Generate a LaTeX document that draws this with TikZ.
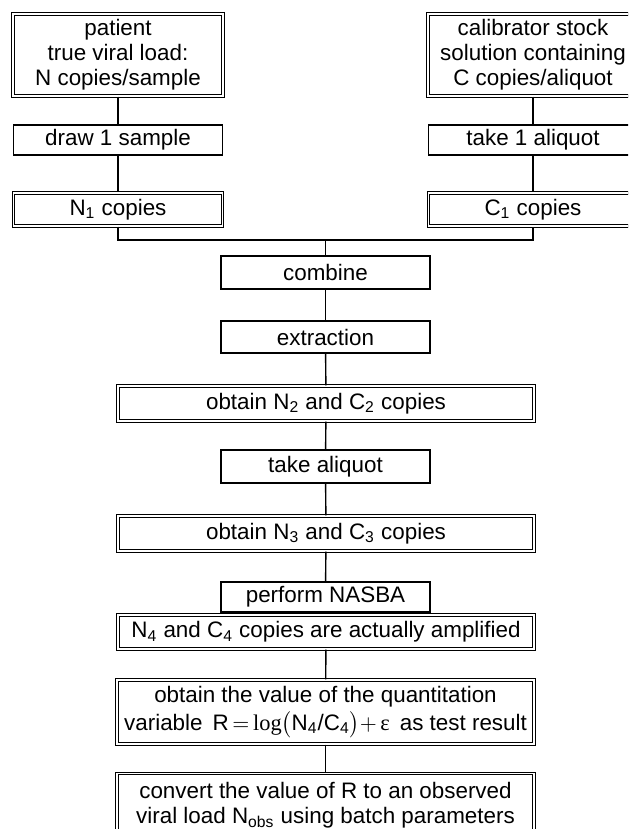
\documentclass[tikz,border=0pt]{standalone}
\usepackage{amsmath}
\usepackage{fontspec}
\setmainfont{Liberation Sans}
\newfontfamily\timesfont{Liberation Serif}
\usetikzlibrary{positioning}

\begin{document}
\begin{tikzpicture}[
    x=0.5pt, y=-0.5pt,
    line width=0.7pt,
    plain/.style={rectangle, draw, inner sep=0pt, align=center, font=\fontsize{11.2}{12.5}\selectfont},
    framed/.style={plain, double, line width=0.55pt, double distance=0.8pt}
]
    \clip (0,0) rectangle (628,829);

    % Patient branch
    \node[framed, minimum width=105pt, minimum height=41pt] (patient) at (118,55) {patient\\true viral load:\\N copies/sample};
    \node[plain, minimum width=104.5pt, minimum height=15pt] (draw) at (118,140) {draw 1 sample};
    \node[framed, minimum width=104.5pt, minimum height=16.5pt] (n1) at (118,209.5) {N\textsubscript{1} copies};

    % Calibrator branch
    \node[framed, minimum width=105pt, minimum height=41pt] (stock) at (533,55) {calibrator stock\\solution containing\\C copies/aliquot};
    \node[plain, minimum width=104.5pt, minimum height=15pt] (take) at (533,140) {take 1 aliquot};
    \node[framed, minimum width=104.5pt, minimum height=16.5pt] (c1) at (533,209.5) {C\textsubscript{1} copies};

    \coordinate (join) at (325.5,240);

    % Common steps
    \node[plain, minimum width=104.5pt, minimum height=16.5pt] (combine) at (325.5,272.5) {combine};
    \node[plain, minimum width=104.5pt, minimum height=16pt] (extract) at (325.5,337) {extraction};
    \node[framed, minimum width=208pt, minimum height=17.5pt] (n2) at (326,403.5) {obtain N\textsubscript{2} and C\textsubscript{2} copies};
    \node[plain, minimum width=104.5pt, minimum height=16.5pt] (aliquot) at (325.5,466.5) {take aliquot};
    \node[framed, minimum width=208pt, minimum height=17.5pt] (n3) at (326,533.5) {obtain N\textsubscript{3} and C\textsubscript{3} copies};
    \node[plain, minimum width=104.5pt, minimum height=15pt] (nasba) at (325.5,597) {perform NASBA};
    \node[framed, minimum width=208pt, minimum height=17pt] (n4) at (326,632) {N\textsubscript{4} and C\textsubscript{4} copies are actually amplified};
    \node[framed, minimum width=208.5pt, minimum height=32pt] (result) at (325.5,712) {obtain the value of the quantitation\\[1.5pt]variable\, R$\,{=}\,$\text{\timesfont log}$\bigl($N\textsubscript{4}/C\textsubscript{4}$\bigr){+}\,$\text{\timesfont ε}\, as test result};
    \node[framed, minimum width=208.5pt, minimum height=32pt] (convert) at (325.5,805.5) {convert the value of R to an observed\\viral load N\textsubscript{obs} using batch parameters};

    % Connections
    \draw (patient) -- (draw);
    \draw (draw) -- (n1);
    \draw (stock) -- (take);
    \draw (take) -- (c1);
    \draw (n1.south) |- (join) -| (c1.south);
    \draw (join) -- (combine);
    \draw (combine) -- (extract);
    \draw (extract) -- (n2);
    \draw (n2) -- (aliquot);
    \draw (aliquot) -- (n3);
    \draw (n3) -- (nasba);
    \draw (n4) -- (result);
    \draw (result) -- (convert);
\end{tikzpicture}
\end{document}
